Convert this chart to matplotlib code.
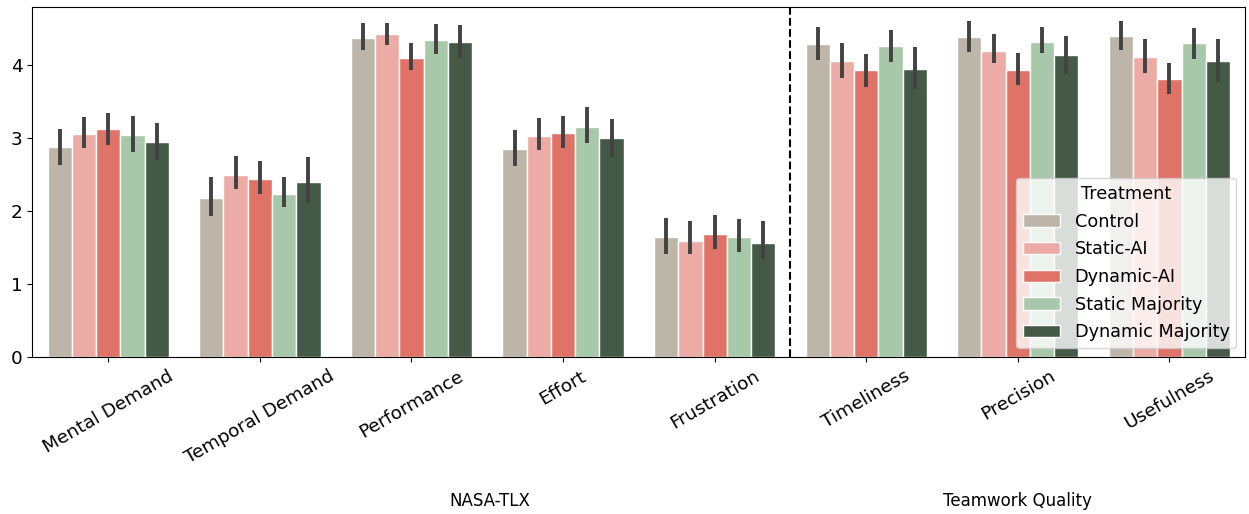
import numpy as np
import matplotlib
matplotlib.use('Agg')
import matplotlib.pyplot as plt

# survey means per treatment, with CI ends
categories = ['Mental Demand', 'Temporal Demand', 'Performance', 'Effort', 'Frustration',
              'Timeliness', 'Precision', 'Usefulness']
treatments = ['Control', 'Static-AI', 'Dynamic-AI', 'Static Majority', 'Dynamic Majority']
colors = ['#bdb6a8', '#ecaba4', '#df7367', '#a7c8a9', '#445a46']

control = [2.88, 2.18, 4.37, 2.85, 1.64, 4.28, 4.38, 4.40]
static_ai = [3.05, 2.50, 4.42, 3.03, 1.59, 4.06, 4.19, 4.11]
dynamic_ai = [3.13, 2.44, 4.09, 3.07, 1.68, 3.93, 3.93, 3.81]
static_maj = [3.04, 2.24, 4.34, 3.15, 1.64, 4.26, 4.32, 4.30]
dynamic_maj = [2.95, 2.40, 4.31, 3.00, 1.56, 3.94, 4.13, 4.05]

control_lo = [2.63, 1.93, 4.20, 2.62, 1.41, 4.07, 4.18, 4.21]
control_hi = [3.13, 2.46, 4.57, 3.11, 1.91, 4.52, 4.60, 4.60]
static_ai_lo = [2.87, 2.30, 4.27, 2.84, 1.41, 3.82, 4.02, 3.89]
static_ai_hi = [3.29, 2.75, 4.58, 3.27, 1.87, 4.30, 4.42, 4.35]
dynamic_ai_lo = [2.91, 2.24, 3.93, 2.87, 1.48, 3.70, 3.72, 3.60]
dynamic_ai_hi = [3.34, 2.68, 4.30, 3.30, 1.95, 4.15, 4.16, 4.03]
static_maj_lo = [2.81, 2.05, 4.15, 2.93, 1.44, 4.04, 4.16, 4.08]
static_maj_hi = [3.30, 2.47, 4.56, 3.42, 1.89, 4.48, 4.52, 4.51]
dynamic_maj_lo = [2.70, 2.11, 4.10, 2.74, 1.34, 3.67, 3.88, 3.76]
dynamic_maj_hi = [3.21, 2.74, 4.54, 3.26, 1.86, 4.25, 4.39, 4.35]

means = [control, static_ai, dynamic_ai, static_maj, dynamic_maj]
lows = [control_lo, static_ai_lo, dynamic_ai_lo, static_maj_lo, dynamic_maj_lo]
highs = [control_hi, static_ai_hi, dynamic_ai_hi, static_maj_hi, dynamic_maj_hi]

fig = plt.figure(figsize=(12.49, 5.14), dpi=100)
ax = fig.add_axes([0.026, 0.305, 0.971, 0.681])

x = np.arange(len(categories))
w = 0.8 / len(treatments)
for i, t in enumerate(treatments):
    pos = x - 0.4 + w * (i + 0.5)
    m = np.array(means[i])
    ax.bar(pos, m, width=w, color=colors[i], edgecolor='white', linewidth=1, label=t, zorder=2)
    ax.vlines(pos, lows[i], highs[i], color='#424242', linewidth=2.8, zorder=3)

ax.axvline(4.5, color='black', linestyle='--', linewidth=1.5)
ax.set_xlim(-0.5, 7.5)
ax.set_ylim(0, 4.79)
ax.set_xticks(x)
ax.set_xticklabels(categories, rotation=30, fontsize=13.3)
ax.tick_params(axis='y', labelsize=13.3)

ax.text(2.52, -0.41, 'NASA-TLX', transform=ax.get_xaxis_transform(), ha='center', va='center', fontsize=12)
ax.text(6.0, -0.41, 'Teamwork Quality', transform=ax.get_xaxis_transform(), ha='center', va='center', fontsize=12)

ax.legend(title='Treatment', loc='lower right', fontsize=12.7, title_fontsize=12.7,
          labelspacing=0.55, handlelength=2.1, framealpha=0.8)

fig.savefig('out.png', dpi=100)
